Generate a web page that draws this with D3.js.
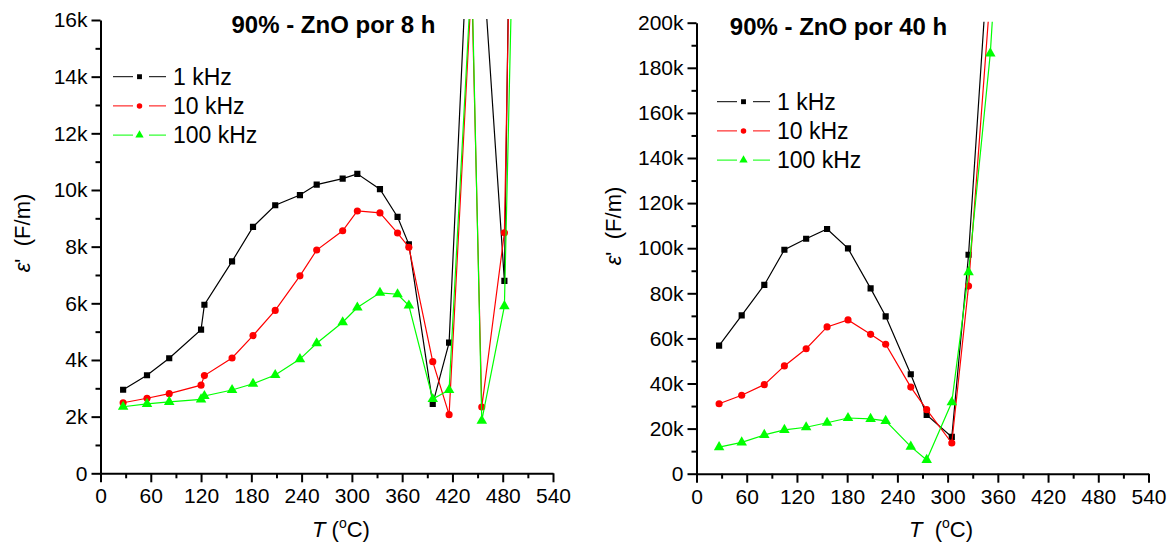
<!DOCTYPE html>
<html>
<head>
<meta charset="utf-8">
<script src="https://cdn.jsdelivr.net/npm/d3@7"></script>
<style>
  html, body { margin: 0; padding: 0; background: #fff; }
  svg { display: block; font-family: "Liberation Sans", Arial, sans-serif; }
</style>
</head>
<body>
<svg id="chart" width="1172" height="546"></svg>
<script>
// ---- Data: dielectric constant vs temperature, 90% ZnO ----
const seriesNames = ["1 kHz", "10 kHz", "100 kHz"];
const seriesColors = ["#000000", "#ff0000", "#00ff00"];
const seriesSymbols = ["square", "circle", "triangle"];

// Sintered 8 h
const temps8h = [27, 55.5, 82, 120, 124, 157, 182, 208.5, 238, 258, 289, 306.5, 333.5, 354.5, 368, 396.5, 416, 443, 455, 482, 500];
const eps8h_1k   = [2950, 3460, 4060, 5070, 5950, 7480, 8700, 9460, 9820, 10190, 10400, 10570, 10030, 9050, 8080, 2450, 4610, 22000, 18700, 6790, 45000];
const eps8h_10k  = [2490, 2650, 2810, 3110, 3450, 4070, 4860, 5750, 6970, 7880, 8560, 9260, 9190, 8480, 7980, 3940, 2070, 17300, 2340, 8490, 37800];
const eps8h_100k = [2350, 2450, 2520, 2610, 2730, 2940, 3160, 3470, 4030, 4590, 5330, 5850, 6370, 6320, 5920, 2620, 2940, 17800, 1860, 5900, 29400];

// Sintered 40 h
const temps40h = [27, 54, 81, 105, 131, 156, 181, 208, 226, 256, 275, 305, 325, 351, 375];
const eps40h_1k   = [56800, 70200, 83700, 99300, 104200, 108500, 99900, 82200, 69800, 44100, 26100, 16300, 97100, 243000, 400000];
const eps40h_10k  = [31000, 34800, 39500, 47800, 55400, 65100, 68200, 61800, 57400, 38400, 28400, 13600, 83200, 213000, 370000];
const eps40h_100k = [11800, 13900, 17200, 19400, 20600, 22600, 24700, 24300, 23400, 12000, 6100, 31700, 89400, 186400, 330000];

// Axis ticks
const xTicks = [0, 60, 120, 180, 240, 300, 360, 420, 480, 540];
const xMinorTicks = [30, 90, 150, 210, 270, 330, 390, 450, 510];
const yTicks8h = [0, 2000, 4000, 6000, 8000, 10000, 12000, 14000, 16000];
const yMinor8h = [1000, 3000, 5000, 7000, 9000, 11000, 13000, 15000];
const yTicks40h = [0, 20000, 40000, 60000, 80000, 100000, 120000, 140000, 160000, 180000, 200000];
const yMinor40h = [10000, 30000, 50000, 70000, 90000, 110000, 130000, 150000, 170000, 190000];

const titles = ["90% - ZnO por 8 h", "90% - ZnO por 40 h"];

// ---- Drawing ----
const svg = d3.select("#chart");
const fontFam = '"Liberation Sans", Arial, sans-serif';

function symbolPath(kind, size) {
  const t = kind === "square" ? d3.symbolSquare : kind === "circle" ? d3.symbolCircle : d3.symbolTriangle;
  return d3.symbol().type(t).size(size)();
}

function drawPanel(cfg, idx) {
  const x = d3.scaleLinear().domain([0, 540]).range([cfg.x0, cfg.x1]);
  const y = d3.scaleLinear().domain([0, cfg.yMax]).range([cfg.yBottom, cfg.yTop]);
  const g = svg.append("g");

  const clipId = "clip" + idx;
  svg.append("clipPath").attr("id", clipId)
    .append("rect")
    .attr("x", cfg.x0).attr("y", cfg.yTop - 1)
    .attr("width", cfg.x1 - cfg.x0 + 1).attr("height", cfg.yBottom - cfg.yTop + 1);

  const fmt = d => d === 0 ? "0" : (d / 1000) + "k";

  // Y axis
  g.append("g").attr("transform", `translate(${cfg.x0},0)`)
    .call(d3.axisLeft(y).tickValues(cfg.yTicks).tickFormat(fmt).tickSize(9).tickPadding(4).tickSizeOuter(0));
  g.append("g").attr("transform", `translate(${cfg.x0},0)`)
    .call(d3.axisLeft(y).tickValues(cfg.yMinor).tickFormat("").tickSize(5).tickSizeOuter(0))
    .select(".domain").remove();

  // X axis
  g.append("g").attr("transform", `translate(0,${cfg.yBottom})`)
    .call(d3.axisBottom(x).tickValues(xTicks).tickFormat(d3.format("d")).tickSize(9).tickPadding(6).tickSizeOuter(0));
  g.append("g").attr("transform", `translate(0,${cfg.yBottom})`)
    .call(d3.axisBottom(x).tickValues(xMinorTicks).tickFormat("").tickSize(5).tickSizeOuter(0))
    .select(".domain").remove();

  g.selectAll(".domain, .tick line").attr("stroke", "#000").attr("stroke-width", 2);
  g.selectAll(".tick text").attr("font-family", fontFam).attr("font-size", 21).attr("fill", "#000");

  // Series
  const plot = g.append("g").attr("clip-path", `url(#${clipId})`);
  cfg.series.forEach((vals, i) => {
    const pts = cfg.temps.map((t, k) => [t, vals[k]]);
    plot.append("path")
      .datum(pts)
      .attr("fill", "none")
      .attr("stroke", seriesColors[i])
      .attr("stroke-width", 1.2)
      .attr("d", d3.line().x(d => x(d[0])).y(d => y(d[1])));
    const size = seriesSymbols[i] === "triangle" ? 48 : seriesSymbols[i] === "circle" ? 40 : 38;
    plot.selectAll(null).data(pts).enter().append("path")
      .attr("transform", d => `translate(${x(d[0])},${y(d[1])})`)
      .attr("d", symbolPath(seriesSymbols[i], size))
      .attr("fill", seriesColors[i]);
  });

  // Title
  g.append("text")
    .attr("x", cfg.titleX).attr("y", cfg.titleY)
    .attr("text-anchor", "middle")
    .attr("font-family", fontFam).attr("font-size", 24).attr("font-weight", "bold")
    .text(titles[idx]);

  // Legend
  seriesNames.forEach((name, i) => {
    const ly = cfg.legY + i * 29.2;
    const lg = g.append("g");
    lg.append("line").attr("x1", cfg.legX).attr("x2", cfg.legX + 20).attr("y1", ly).attr("y2", ly)
      .attr("stroke", seriesColors[i]).attr("stroke-width", 1);
    lg.append("line").attr("x1", cfg.legX + 36).attr("x2", cfg.legX + 53).attr("y1", ly).attr("y2", ly)
      .attr("stroke", seriesColors[i]).attr("stroke-width", 1);
    lg.append("path")
      .attr("transform", `translate(${cfg.legX + 26.5},${ly})`)
      .attr("d", symbolPath(seriesSymbols[i], seriesSymbols[i] === "triangle" ? 30 : 24))
      .attr("fill", seriesColors[i]);
    lg.append("text").attr("x", cfg.legX + 60).attr("y", ly + 8)
      .attr("font-family", fontFam).attr("font-size", 23)
      .text(name);
  });

  // Y axis title
  const yt = g.append("text")
    .attr("transform", `translate(${cfg.yLabelX},${cfg.yLabelY}) rotate(-90)`)
    .attr("text-anchor", "middle")
    .attr("font-family", fontFam).attr("font-size", 22);
  yt.append("tspan").attr("font-style", "italic").text("\u03B5");
  yt.append("tspan").text("'\u00A0\u00A0(F/m)");

  // X axis title
  const xt = g.append("text")
    .attr("x", cfg.xLabelX).attr("y", 537)
    .attr("text-anchor", "middle")
    .attr("font-family", fontFam).attr("font-size", 22);
  xt.append("tspan").attr("font-style", "italic").text("T");
  xt.append("tspan").text(cfg.xLabelGap + "(");
  xt.append("tspan").attr("font-size", 14).attr("dy", -9).text("o");
  xt.append("tspan").attr("dy", 9).text("C)");
}

drawPanel({
  x0: 100.5, x1: 553, yTop: 20, yBottom: 473.3, yMax: 16000,
  yTicks: yTicks8h, yMinor: yMinor8h,
  temps: temps8h, series: [eps8h_1k, eps8h_10k, eps8h_100k],
  titleX: 333.5, titleY: 33,
  legX: 113, legY: 76.7,
  yLabelX: 30, yLabelY: 233,
  xLabelX: 341, xLabelGap: "\u00A0"
}, 0);

drawPanel({
  x0: 696.5, x1: 1148.5, yTop: 22.7, yBottom: 473.7, yMax: 200000,
  yTicks: yTicks40h, yMinor: yMinor40h,
  temps: temps40h, series: [eps40h_1k, eps40h_10k, eps40h_100k],
  titleX: 838.5, titleY: 35,
  legX: 717, legY: 101.7,
  yLabelX: 621, yLabelY: 226,
  xLabelX: 941, xLabelGap: "\u00A0\u00A0"
}, 1);
</script>
</body>
</html>
